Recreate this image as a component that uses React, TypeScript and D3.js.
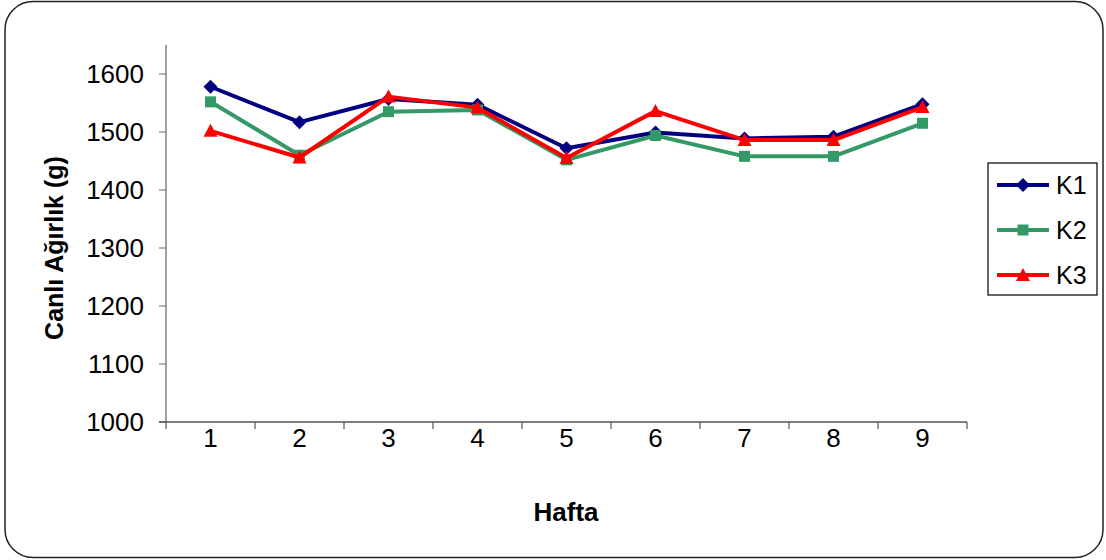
import React from "react";
import * as d3 from "d3";

const weeks = ["1", "2", "3", "4", "5", "6", "7", "8", "9"];
const k1 = [1578, 1517, 1557, 1547, 1472, 1499, 1489, 1492, 1548];
const k2 = [1552, 1460, 1535, 1538, 1452, 1494, 1458, 1458, 1515];
const k3 = [1502, 1456, 1561, 1542, 1455, 1536, 1486, 1486, 1543];
const yTicks = [1000, 1100, 1200, 1300, 1400, 1500, 1600];
const seriesNames = ["K1", "K2", "K3"];
const seriesColors = ["#000080", "#339966", "#FF0000"];

const diamond = {
  draw(ctx: any, size: number) {
    const r = Math.sqrt(size) / 2;
    ctx.moveTo(0, -r); ctx.lineTo(r, 0); ctx.lineTo(0, r); ctx.lineTo(-r, 0); ctx.closePath();
  },
};
const square = {
  draw(ctx: any, size: number) {
    const r = Math.sqrt(size) / 2;
    ctx.rect(-r, -r, 2 * r, 2 * r);
  },
};
const triangle = {
  draw(ctx: any, size: number) {
    const r = Math.sqrt(size) / 2;
    ctx.moveTo(0, -r); ctx.lineTo(r, r * 0.85); ctx.lineTo(-r, r * 0.85); ctx.closePath();
  },
};
const seriesShapes = [diamond, square, triangle];

const W = 1106, H = 560;
const left = 166, right = 967, top = 45, bottom = 422;
const FONT = "'Liberation Sans', Arial, sans-serif";

export default function App() {
  const x = d3.scaleBand<string>().domain(weeks).range([left, right]);
  const y = d3.scaleLinear().domain([1000, 1650]).range([bottom, top]);
  const cx = (w: string) => (x(w) as number) + x.bandwidth() / 2;
  const line = d3.line<number>().x((_, i) => cx(weeks[i])).y((v) => y(v));
  const data = [k1, k2, k3];
  const sizes = [196, 121, 196];
  const sym = (i: number) => d3.symbol().type(seriesShapes[i] as any).size(sizes[i])() as string;
  const xEdges = weeks.map((w) => x(w) as number).concat([right]);

  return (
    <svg width={W} height={H} style={{ position: "absolute", left: 0, top: 0, background: "#fff" }} fontFamily={FONT}>
      <rect x={5} y={1.5} width={1098} height={556} rx={28} ry={28} fill="#fff" stroke="#222" strokeWidth={1.5} />
      {/* y axis */}
      <line x1={left} x2={left} y1={top} y2={bottom} stroke="#808080" strokeWidth={1.5} />
      {yTicks.map((t) => (
        <g key={t}>
          <line x1={left - 7} x2={left} y1={y(t)} y2={y(t)} stroke="#808080" strokeWidth={1.2} />
          <text x={144} y={y(t)} dy="0.36em" textAnchor="end" fontSize={26} fill="#000">{t}</text>
        </g>
      ))}
      {/* x axis */}
      <line x1={left - 7} x2={right} y1={bottom} y2={bottom} stroke="#555" strokeWidth={1.3} />
      {xEdges.map((e, i) => (
        <line key={i} x1={e} x2={e} y1={bottom} y2={bottom + 7} stroke="#555" strokeWidth={1.2} />
      ))}
      {weeks.map((w) => (
        <text key={w} x={cx(w)} y={447} textAnchor="middle" fontSize={26} fill="#000">{w}</text>
      ))}
      {/* series */}
      {data.map((d, i) => (
        <g key={i}>
          <path d={line(d) as string} fill="none" stroke={seriesColors[i]} strokeWidth={4} strokeLinejoin="round" />
          {d.map((v, j) => (
            <path key={j} d={sym(i)} transform={`translate(${cx(weeks[j])},${y(v)})`} fill={seriesColors[i]} />
          ))}
        </g>
      ))}
      {/* axis titles */}
      <text x={566} y={521} textAnchor="middle" fontSize={26} fontWeight="bold">Hafta</text>
      <text transform="translate(63,248) rotate(-90)" textAnchor="middle" fontSize={25} fontWeight="bold">Canlı Ağırlık (g)</text>
      {/* legend */}
      <rect x={988} y={163} width={109} height={132} fill="#fff" stroke="#000" strokeWidth={1.2} />
      {seriesNames.map((n, i) => {
        const ly = 185 + i * 45;
        return (
          <g key={n}>
            <line x1={997} x2={1049} y1={ly} y2={ly} stroke={seriesColors[i]} strokeWidth={4} />
            <path d={sym(i)} transform={`translate(1023,${ly})`} fill={seriesColors[i]} />
            <text x={1056} y={ly} dy="0.36em" fontSize={25} fill="#000">{n}</text>
          </g>
        );
      })}
    </svg>
  );
}
